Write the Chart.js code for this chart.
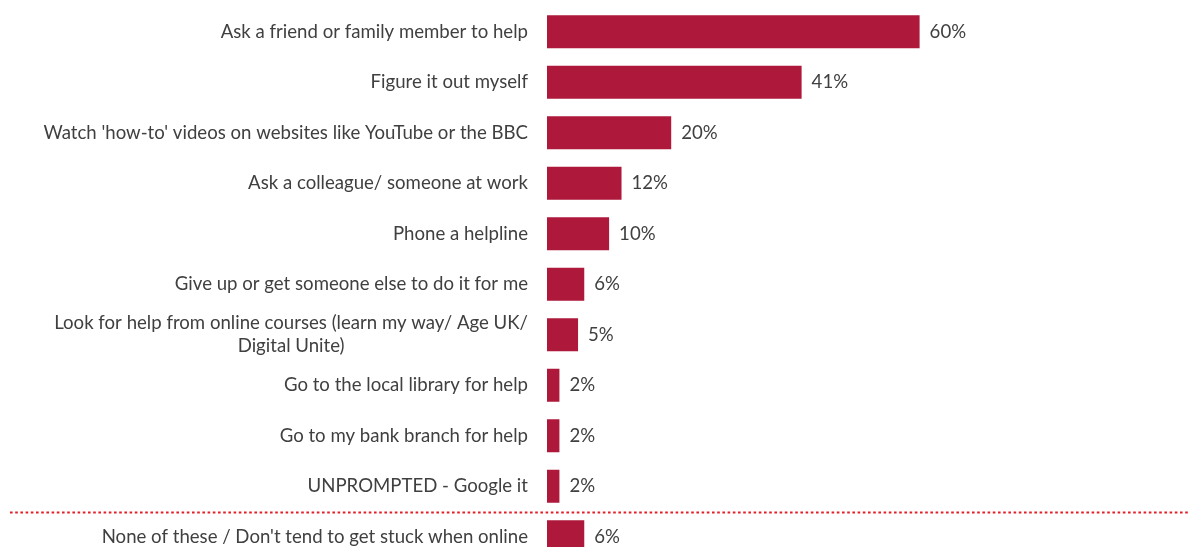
<!DOCTYPE html>
<html>
<head>
<meta charset="utf-8">
<script src="https://cdn.jsdelivr.net/npm/chart.js@4/dist/chart.umd.min.js"></script>
<style>
html,body{margin:0;padding:0;background:#fff;overflow:hidden;}
#wrap{position:relative;width:1189px;height:562px;}
</style>
</head>
<body>
<div id="wrap"><canvas id="c"></canvas></div>
<script>
const categories = [
  "Ask a friend or family member to help",
  "Figure it out myself",
  "Watch 'how-to' videos on websites like YouTube or the BBC",
  "Ask a colleague/ someone at work",
  "Phone a helpline",
  "Give up or get someone else to do it for me",
  ["Look for help from online courses (learn my way/ Age UK/", "Digital Unite)"],
  "Go to the local library for help",
  "Go to my bank branch for help",
  "UNPROMPTED - Google it",
  "None of these / Don't tend to get stuck when online"
];
const values = [60, 41, 20, 12, 10, 6, 5, 2, 2, 2, 6];
const separatorAfterIndex = 9;

const FONT = "18.6px Lato";
const TEXT_COLOR = "#404040";
const BAR_COLOR = "#AE183A";

const labelsPlugin = {
  id: 'customLabels',
  afterDatasetsDraw(chart) {
    const ctx = chart.ctx;
    const yScale = chart.scales.y;
    const meta = chart.getDatasetMeta(0);
    ctx.save();
    ctx.font = FONT;
    ctx.fillStyle = TEXT_COLOR;
    ctx.textBaseline = 'middle';
    const rightX = chart.chartArea.left - 19;
    categories.forEach((lab, i) => {
      const y = yScale.getPixelForValue(i);
      if (Array.isArray(lab)) {
        const lh = 23;
        const widest = Math.max(...lab.map(l => ctx.measureText(l).width));
        ctx.textAlign = 'center';
        const cx = rightX - widest / 2;
        lab.forEach((l, k) => {
          ctx.fillText(l, cx, y + (k - (lab.length - 1) / 2) * lh);
        });
      } else {
        ctx.textAlign = 'right';
        ctx.fillText(lab, rightX, y);
      }
    });
    ctx.textAlign = 'left';
    meta.data.forEach((bar, i) => {
      ctx.fillText(values[i] + '%', bar.x + 10, bar.y);
    });
    const ySep = (yScale.getPixelForValue(separatorAfterIndex) + yScale.getPixelForValue(separatorAfterIndex + 1)) / 2 + 1;
    ctx.strokeStyle = 'rgb(226,30,38)';
    ctx.lineWidth = 2;
    ctx.setLineDash([2.6, 2.6]);
    ctx.beginPath();
    ctx.moveTo(10, ySep);
    ctx.lineTo(chart.width, ySep);
    ctx.stroke();
    ctx.restore();
  }
};

new Chart(document.getElementById('c'), {
  type: 'bar',
  data: {
    labels: categories,
    datasets: [{
      data: values,
      backgroundColor: BAR_COLOR,
      borderWidth: 0,
      barPercentage: 0.82,
      categoryPercentage: 0.8
    }]
  },
  options: {
    indexAxis: 'y',
    responsive: true,
    maintainAspectRatio: false,
    animation: false,
    layout: { padding: { left: 0, right: 21, top: 6.5, bottom: 0 } },
    plugins: { legend: { display: false }, tooltip: { enabled: false } },
    scales: {
      x: { display: false, min: 0, max: 100 },
      y: {
        display: true,
        offset: true,
        grid: { display: false },
        border: { display: false },
        ticks: { display: false },
        afterFit(scale) { scale.width = 547; }
      }
    }
  },
  plugins: [labelsPlugin]
});
</script>
</body>
</html>
